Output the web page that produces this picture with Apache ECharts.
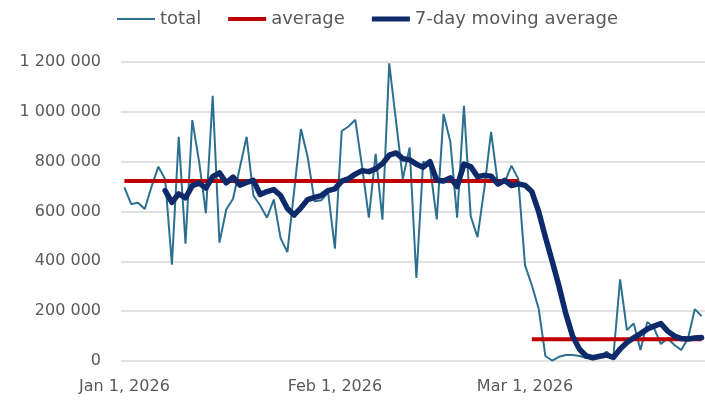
<!DOCTYPE html>
<html>
<head>
<meta charset="utf-8">
<script src="https://cdn.jsdelivr.net/npm/echarts@6/dist/echarts.min.js"></script>
<style>
  html, body { margin: 0; padding: 0; background: #fff; }
  #chart { width: 705px; height: 400px; }
</style>
</head>
<body>
<div id="chart"></div>
<script>
// daily values starting Jan 1, 2026
const startDate = [2026, 0, 1];
const total = [
  697000, 630000, 635000, 610000, 700000, 780000, 730000, 387000, 900000, 471000,
  967000, 800000, 593000, 1064000, 475000, 608000, 651000, 776000, 900000, 664000,
  624000, 575000, 648000, 493000, 437000, 684000, 931000, 817000, 641000, 645000,
  677000, 451000, 923000, 941000, 968000, 780000, 575000, 831000, 567000, 1195000,
  963000, 731000, 857000, 333000, 800000, 781000, 568000, 991000, 880000, 575000,
  1024000, 581000, 497000, 692000, 920000, 711000, 717000, 784000, 731000, 384000,
  304000, 211000, 20000, 2000, 17000, 24000, 24000, 20000, 12000, 12000,
  17000, 37000, 15000, 328000, 124000, 151000, 44000, 157000, 132000, 68000,
  91000, 64000, 44000, 91000, 208000, 180000
];
const movingAvg = [
  null, null, null, null, null, null, 684000, 637000, 671000, 655000,
  704000, 714000, 694000, 740000, 755000, 715000, 738000, 706000, 717000, 725000,
  668000, 680000, 688000, 664000, 612000, 586000, 615000, 648000, 657000, 664000,
  684000, 691000, 722000, 731000, 750000, 764000, 760000, 771000, 792000, 826000,
  835000, 812000, 808000, 790000, 778000, 800000, 725000, 722000, 735000, 700000,
  790000, 780000, 740000, 745000, 742000, 710000, 725000, 704000, 711000, 705000,
  680000, 600000, 497000, 400000, 300000, 190000, 100000, 48000, 20000, 13000,
  19000, 24000, 14000, 48000, 74000, 93000, 110000, 128000, 140000, 150000,
  120000, 100000, 90000, 88000, 92000, 94000
];
// average periods: [first index, last index, value]
const averages = [
  [0, 58, 722000],
  [60, 85, 87000]
];
const monthNames = ['Jan', 'Feb', 'Mar', 'Apr', 'May', 'Jun', 'Jul', 'Aug', 'Sep', 'Oct', 'Nov', 'Dec'];

const days = total.map((v, i) => new Date(startDate[0], startDate[1], startDate[2] + i));
const categories = days.map(d => d.getFullYear() + '-' + (d.getMonth() + 1) + '-' + d.getDate());
const averageLine = total.map((v, i) => {
  for (const a of averages) {
    if (i >= a[0] && i <= a[1]) return a[2];
  }
  return null;
});

function fmtNum(v) {
  return String(v).replace(/\B(?=(\d{3})+(?!\d))/g, ' ');
}
// legend line icon of a given thickness inside a 12-high box
function lineIcon(t) {
  const a = 6 - t / 2, b = 6 + t / 2;
  return 'path://M0,0 H40 V0.01 H0 Z M0,' + a + ' H40 V' + b + ' H0 Z M0,11.99 H40 V12 H0 Z';
}

const chart = echarts.init(document.getElementById('chart'));
const font = 'DejaVu Sans';
chart.setOption({
  animation: false,
  textStyle: { fontFamily: font },
  legend: {
    top: 5,
    left: 112,
    itemWidth: 38,
    itemHeight: 12,
    itemGap: 27,
    textStyle: { fontSize: 18, color: '#595959', fontFamily: font },
    data: [
      { name: 'total', icon: lineIcon(2) },
      { name: 'average', icon: lineIcon(4) },
      { name: '7-day moving average', icon: lineIcon(5.5) }
    ]
  },
  grid: { left: 121, right: -5, top: 62, bottom: 39 },
  xAxis: {
    type: 'category',
    data: categories,
    boundaryGap: true,
    axisLine: { show: false },
    axisTick: { show: false },
    axisLabel: {
      interval: (idx) => days[idx].getDate() === 1,
      formatter: (val, idx) => {
        const d = days[idx];
        return monthNames[d.getMonth()] + ' ' + d.getDate() + ', ' + d.getFullYear();
      },
      fontSize: 16,
      color: '#595959',
      margin: 18,
      fontFamily: font
    }
  },
  yAxis: {
    type: 'value',
    min: 0,
    max: 1200000,
    interval: 200000,
    axisLine: { show: false },
    axisTick: { show: false },
    splitLine: { lineStyle: { color: '#d9d9d9', width: 1.5 } },
    axisLabel: {
      formatter: fmtNum,
      fontSize: 16,
      color: '#595959',
      margin: 20,
      fontFamily: font
    }
  },
  series: [
    {
      name: 'total',
      type: 'line',
      data: total,
      symbol: 'none',
      lineStyle: { color: '#2c7090', width: 2 },
      itemStyle: { color: '#2c7090' }
    },
    {
      name: 'average',
      type: 'line',
      data: averageLine,
      symbol: 'none',
      connectNulls: false,
      lineStyle: { color: '#c00000', width: 4 },
      itemStyle: { color: '#c00000' }
    },
    {
      name: '7-day moving average',
      type: 'line',
      data: movingAvg,
      symbol: 'none',
      lineStyle: { color: '#0e2a6a', width: 5.5, join: 'round', cap: 'round' },
      itemStyle: { color: '#0e2a6a' }
    }
  ]
});
</script>
</body>
</html>
